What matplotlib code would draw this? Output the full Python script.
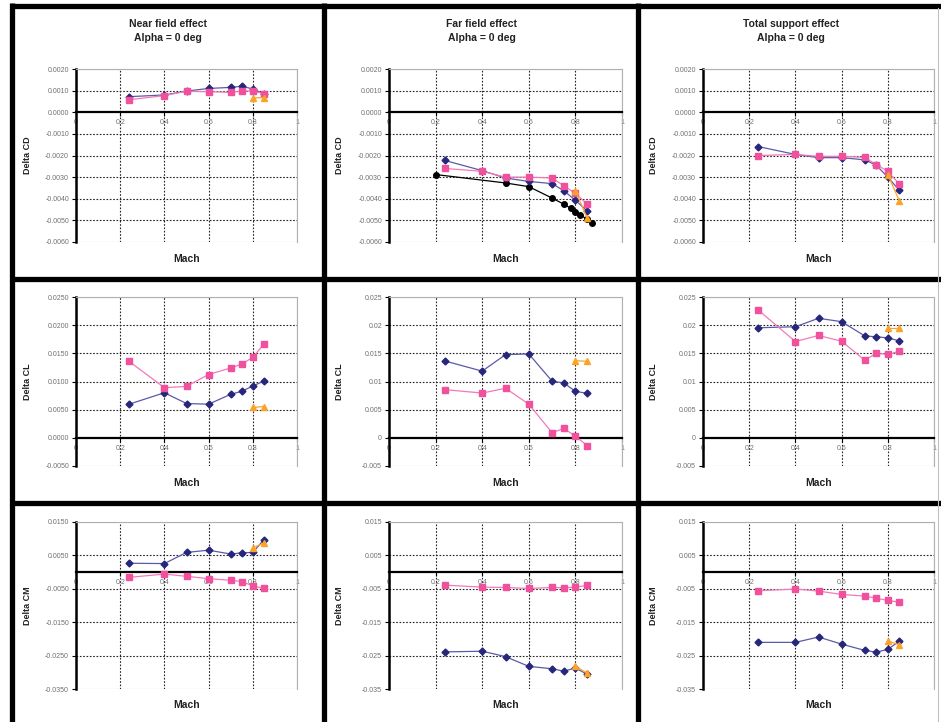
import matplotlib
matplotlib.use("Agg")
import matplotlib.pyplot as plt
from matplotlib.lines import Line2D
from matplotlib.patches import Rectangle
from matplotlib.ticker import FixedLocator, FuncFormatter

plt.rcParams['font.family'] = ['Liberation Sans', 'DejaVu Sans']

# Mach numbers
mach = [0.24, 0.4, 0.5, 0.6, 0.7, 0.75, 0.8, 0.85]
mach_tri = [0.8, 0.85]
mach_black = [0.2, 0.5, 0.6, 0.7, 0.75, 0.78, 0.8, 0.82, 0.85, 0.87]

# Delta CD
nf_cd_blue = [0.00072, 0.0008, 0.00098, 0.0011, 0.00115, 0.0012, 0.00108, 0.00085]
nf_cd_pink = [0.00058, 0.00077, 0.00097, 0.00095, 0.00092, 0.00098, 0.00098, 0.00086]
nf_cd_orange = [0.00066, 0.00068]

ff_cd_blue = [-0.00223, -0.0027, -0.00304, -0.0032, -0.0033, -0.00363, -0.00407, -0.00456]
ff_cd_pink = [-0.0026, -0.00273, -0.003, -0.003, -0.00304, -0.0034, -0.00375, -0.00425]
ff_cd_orange = [-0.00363, -0.00488]
ff_cd_black = [-0.00288, -0.00327, -0.00344, -0.00397, -0.00425, -0.00444,
               -0.0046, -0.00475, -0.00494, -0.0051]

ts_cd_blue = [-0.00159, -0.00195, -0.0021, -0.0021, -0.0022, -0.00245, -0.003, -0.00361]
ts_cd_pink = [-0.002, -0.00195, -0.00204, -0.00204, -0.00209, -0.00242, -0.00273, -0.00332]
ts_cd_orange = [-0.00288, -0.0041]

# Delta CL
nf_cl_blue = [0.00597, 0.008, 0.00609, 0.00597, 0.00773, 0.00826, 0.0092, 0.01007]
nf_cl_pink = [0.01358, 0.0089, 0.00913, 0.01124, 0.0124, 0.0131, 0.01429, 0.01663]
nf_cl_orange = [0.00539, 0.00556]

ff_cl_blue = [0.01364, 0.01184, 0.01477, 0.0149, 0.01005, 0.00975, 0.00825, 0.0079]
ff_cl_pink = [0.00855, 0.00795, 0.0088, 0.00598, 0.0009, 0.00167, 0.0003, -0.00138]
ff_cl_orange = [0.0137, 0.01358]

ts_cl_blue = [0.01954, 0.01972, 0.02122, 0.02062, 0.0181, 0.01793, 0.01775, 0.0172]
ts_cl_pink = [0.02266, 0.01709, 0.01817, 0.01715, 0.01379, 0.01499, 0.01481, 0.01535]
ts_cl_orange = [0.01942, 0.01942]

# Delta CM
nf_cm_blue = [0.00265, 0.00255, 0.00588, 0.00657, 0.0054, 0.00578, 0.00588, 0.0097]
nf_cm_pink = [-0.00157, -0.00059, -0.00127, -0.00196, -0.00245, -0.00284, -0.00412, -0.0049]
nf_cm_orange = [0.00735, 0.00863]

ff_cm_blue = [-0.02389, -0.02369, -0.0253, -0.02823, -0.02894, -0.02965, -0.02874, -0.03056]
ff_cm_pink = [-0.0039, -0.0045, -0.0046, -0.0049, -0.0046, -0.0047, -0.0045, -0.004]
ff_cm_orange = [-0.02823, -0.03025]

ts_cm_blue = [-0.02104, -0.02104, -0.01944, -0.02155, -0.02345, -0.02396, -0.02315, -0.02064]
ts_cm_pink = [-0.00558, -0.00508, -0.00568, -0.00669, -0.00719, -0.00779, -0.0085, -0.009]
ts_cm_orange = [-0.02064, -0.02175]

titles = ["Near field effect\nAlpha = 0 deg", "Far field effect\nAlpha = 0 deg",
          "Total support effect\nAlpha = 0 deg"]
ylabels = ["Delta CD", "Delta CL", "Delta CM"]
xticks = [0, 0.2, 0.4, 0.6, 0.8, 1]
xtick_labels = ["0", "0.2", "0.4", "0.6", "0.8", "1"]
cd_ticks = [-0.006, -0.005, -0.004, -0.003, -0.002, -0.001, 0.0, 0.001, 0.002]
cl_ticks = [-0.005, 0.0, 0.005, 0.01, 0.015, 0.02, 0.025]
cm_ticks = [-0.035, -0.025, -0.015, -0.005, 0.005, 0.015]

BLUE = '#26267a'
BLUE_LINE = '#5a5aa8'
PINK = '#f0509c'
PINK_LINE = '#f27ab8'
ORANGE = '#fba329'

W, H = 941, 722
fig = plt.figure(figsize=(W / 100, H / 100), dpi=100)
fig.patch.set_facecolor('white')


def rect(l, t, r, b):
    return [l / W, 1 - b / H, (r - l) / W, (b - t) / H]


def fmt_fixed(v, pos):
    s = "%.4f" % v
    return "0.0000" if s == "-0.0000" else s


def fmt_general(v, pos):
    if abs(v) < 1e-12:
        return "0"
    return ("%.3f" % v).rstrip('0').rstrip('.')


col_lr = [(76, 297), (389, 622), (703, 934)]
row_tb = [(69, 242), (297, 466), (522, 689)]
chart_lr = [(14, 322), (327, 636), (641, 941)]
mach_y = [259, 483, 705]

panels = [
    [(nf_cd_blue, nf_cd_pink, nf_cd_orange, None), (ff_cd_blue, ff_cd_pink, ff_cd_orange, ff_cd_black),
     (ts_cd_blue, ts_cd_pink, ts_cd_orange, None)],
    [(nf_cl_blue, nf_cl_pink, nf_cl_orange, None), (ff_cl_blue, ff_cl_pink, ff_cl_orange, None),
     (ts_cl_blue, ts_cl_pink, ts_cl_orange, None)],
    [(nf_cm_blue, nf_cm_pink, nf_cm_orange, None), (ff_cm_blue, ff_cm_pink, ff_cm_orange, None),
     (ts_cm_blue, ts_cm_pink, ts_cm_orange, None)],
]
row_ticks = [cd_ticks, cl_ticks, cm_ticks]

for r in range(3):
    for c in range(3):
        l, rr = col_lr[c]
        t, b = row_tb[r]
        ax = fig.add_axes(rect(l, t, rr, b))
        yt = row_ticks[r]
        ax.set_xlim(0, 1)
        ax.set_ylim(yt[0], yt[-1])

        # dotted grid on inner ticks
        for xv in xticks[1:-1]:
            ax.axvline(xv, color='#222222', lw=0.8, ls=(0, (1.5, 1.5)), zorder=1)
        for yv in yt[1:-1]:
            if abs(yv) > 1e-12:
                ax.axhline(yv, color='#222222', lw=0.8, ls=(0, (1.5, 1.5)), zorder=1)

        blue, pink, orange, black = panels[r][c]
        if black is not None:
            ax.plot(mach_black, black, color='black', lw=0.9, marker='o', ms=4, zorder=3)
        ax.plot(mach, blue, color=BLUE_LINE, lw=0.9, marker='D', ms=3.5,
                mfc=BLUE, mec=BLUE, zorder=4)
        ax.plot(mach, pink, color=PINK_LINE, lw=0.9, marker='s', ms=5,
                mfc=PINK, mec=PINK, zorder=5)
        ax.plot(mach_tri, orange, color=ORANGE, lw=0.9, marker='^', ms=5,
                mfc=ORANGE, mec=ORANGE, zorder=6)

        # spines: thick left, zero line as x-axis, light gray frame
        for s in ['top', 'right']:
            ax.spines[s].set_color('#b0b0b0')
            ax.spines[s].set_linewidth(0.8)
        ax.spines['left'].set_color('black')
        ax.spines['left'].set_linewidth(1.8)
        ax.spines['bottom'].set_position(('data', 0))
        ax.spines['bottom'].set_color('black')
        ax.spines['bottom'].set_linewidth(1.6)
        ax.add_patch(Rectangle((0, 0), 1, 1, transform=ax.transAxes, fill=False,
                               ec='#b0b0b0', lw=0.8, zorder=0))

        ax.xaxis.set_major_locator(FixedLocator(xticks))
        ax.set_xticklabels(xtick_labels)
        ax.yaxis.set_major_locator(FixedLocator(yt))
        if r == 0 or c == 0:
            ax.yaxis.set_major_formatter(FuncFormatter(fmt_fixed))
        else:
            ax.yaxis.set_major_formatter(FuncFormatter(fmt_general))
        ax.tick_params(axis='both', labelsize=5, labelcolor='#707070', color='black',
                       length=3, width=0.8, direction='out', pad=2)

        # chart text
        cx = (chart_lr[c][0] + chart_lr[c][1]) / 2
        if r == 0:
            fig.text(cx / W, 1 - 31 / H, titles[c], ha='center', va='center',
                     fontsize=7.5, fontweight='bold', color='#222222', linespacing=1.6)
        fig.text((l - 49) / W, 1 - ((t + b) / 2) / H, ylabels[r], rotation=90,
                 ha='center', va='center', fontsize=6.5, fontweight='bold', color='#222222')
        fig.text(((l + rr) / 2) / W, 1 - mach_y[r] / H, "Mach", ha='center', va='center',
                 fontsize=7.5, fontweight='bold', color='#222222')

# thick black frame lines between the charts
def hline(y, x0=10, x1=941):
    fig.add_artist(Line2D([x0 / W, x1 / W], [1 - y / H, 1 - y / H], color='black',
                          lw=3.8, transform=fig.transFigure, solid_capstyle='butt'))


def vline(x, y0=3, y1=722):
    fig.add_artist(Line2D([x / W, x / W], [1 - y0 / H, 1 - y1 / H], color='black',
                          lw=3.8, transform=fig.transFigure, solid_capstyle='butt'))


hline(5.5)
hline(279)
hline(503)
vline(12)
vline(324)
vline(638)
# thin gray outer edge on the right
fig.add_artist(Line2D([938 / W, 938 / W], [1 - 8 / H, 0], color='#c0c0c0', lw=0.8,
                      transform=fig.transFigure))

fig.savefig("out.png", dpi=100, facecolor='white')
